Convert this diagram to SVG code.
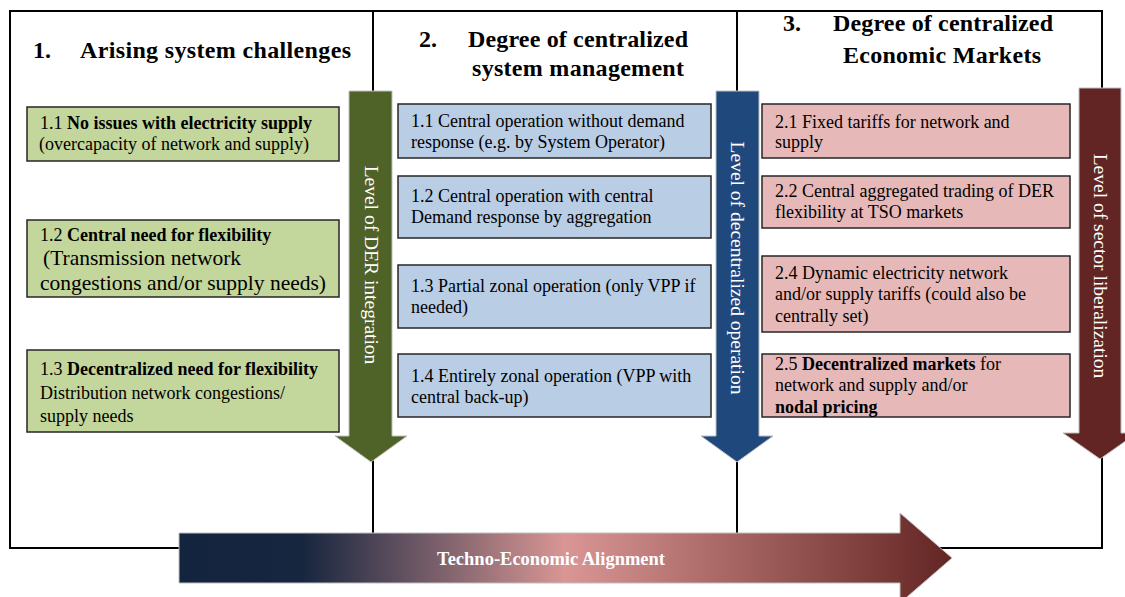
<svg xmlns="http://www.w3.org/2000/svg" width="1125" height="597" viewBox="0 0 1125 597">
<defs>
<style>
.frame{fill:none;stroke:#000;stroke-width:2}
.t{font-family:"Liberation Serif","Times New Roman",serif;fill:#000}
.title{font-size:24px;font-weight:bold}
.bx{font-size:18px}
.big{font-size:21.5px}
.b{font-weight:bold}
.g{fill:#c3d69b;stroke:#262626;stroke-width:1.5}
.bl{fill:#b9cde5;stroke:#262626;stroke-width:1.5}
.r{fill:#e6b9b8;stroke:#262626;stroke-width:1.5}
.vt{font-family:"Liberation Serif","Times New Roman",serif;font-size:19.5px;fill:#fff}
.arr{stroke:#bfbfbf;stroke-width:1}
</style>
<linearGradient id="grad" x1="0" y1="0" x2="1" y2="0">
<stop offset="0" stop-color="#13243f"/>
<stop offset="0.16" stop-color="#17263f"/>
<stop offset="0.5" stop-color="#d99694"/>
<stop offset="1" stop-color="#632523"/>
</linearGradient>
</defs>
<rect width="1125" height="597" fill="#fff"/>

<g id="frame">
<rect class="frame" x="10" y="11" width="1092" height="537"/>
<line class="frame" x1="373" y1="11" x2="373" y2="548"/>
<line class="frame" x1="737" y1="11" x2="737" y2="548"/>
</g>

<g id="titles">
<text class="t title" x="33" y="58">1.</text>
<text class="t title" x="80" y="58" textLength="271">Arising system challenges</text>
<text class="t title" x="419" y="47">2.</text>
<text class="t title" x="468" y="47" textLength="220">Degree of centralized</text>
<text class="t title" x="472" y="76" textLength="212">system management</text>
<text class="t title" x="783" y="31">3.</text>
<text class="t title" x="833" y="31" textLength="220">Degree of centralized</text>
<text class="t title" x="843" y="63" textLength="198">Economic Markets</text>
</g>

<g id="connectors">
<polygon id="arrow-der" class="arr" fill="#4f6228" points="349,91 392,91 392,436 407,436 371,462 335,436 349,436"/>
<polygon id="arrow-dec" class="arr" fill="#1f497d" points="716,91 759,91 759,436 773,436 737,462 701,436 716,436"/>
<polygon id="arrow-lib" class="arr" fill="#632523" points="1079,88 1121,88 1121,433 1137,433 1100,459 1063,433 1079,433"/>
<polygon id="arrow-align" class="arr" fill="url(#grad)" points="179,533 900,533 900,513 952,558 900,603 900,583 179,583"/>
<text class="vt" transform="translate(371,265) rotate(90)" y="6.5" text-anchor="middle">Level of DER integration</text>
<text class="vt" transform="translate(737,268) rotate(90)" y="6.5" text-anchor="middle">Level of decentralized operation</text>
<text class="vt" transform="translate(1100,266) rotate(90)" y="6.5" text-anchor="middle">Level of sector liberalization</text>
<text class="t b" x="551" y="565" font-size="18.5" fill="#fff" style="fill:#fff" text-anchor="middle">Techno-Economic Alignment</text>
</g>

<g id="n-1-1">
<rect class="g" x="27" y="107" width="312" height="54"/>
<text class="t bx" x="40" y="129">1.1 <tspan class="b">No issues with electricity supply</tspan></text>
<text class="t bx" x="39" y="150">(overcapacity of network and supply)</text>
</g>
<g id="n-1-2">
<rect class="g" x="27" y="220" width="312" height="77"/>
<text class="t bx" x="40" y="241">1.2 <tspan class="b">Central need for flexibility</tspan></text>
<text class="t big" x="43" y="265"> (Transmission network</text>
<text class="t big" x="40" y="290">congestions and/or supply needs)</text>
</g>
<g id="n-1-3">
<rect class="g" x="27" y="350" width="312" height="82"/>
<text class="t bx" x="40" y="375">1.3 <tspan class="b">Decentralized need for flexibility</tspan></text>
<text class="t bx" x="40" y="399">Distribution network congestions/</text>
<text class="t bx" x="40" y="422">supply needs</text>
</g>

<g id="n-op-1-1">
<rect class="bl" x="398" y="104" width="313" height="54"/>
<text class="t bx" x="411" y="127">1.1 Central operation without demand</text>
<text class="t bx" x="411" y="148">response (e.g. by System Operator)</text>
</g>
<g id="n-op-1-2">
<rect class="bl" x="398" y="176" width="313" height="62"/>
<text class="t bx" x="411" y="202">1.2 Central operation with central</text>
<text class="t bx" x="411" y="223">Demand response by aggregation</text>
</g>
<g id="n-op-1-3">
<rect class="bl" x="398" y="265" width="313" height="63"/>
<text class="t bx" x="411" y="292">1.3 Partial zonal operation (only VPP if</text>
<text class="t bx" x="411" y="313">needed)</text>
</g>
<g id="n-op-1-4">
<rect class="bl" x="398" y="354" width="313" height="63"/>
<text class="t bx" x="411" y="382">1.4 Entirely zonal operation (VPP with</text>
<text class="t bx" x="411" y="403">central back-up)</text>
</g>

<g id="n-2-1">
<rect class="r" x="762" y="104" width="308" height="54"/>
<text class="t bx" x="775" y="128">2.1 Fixed tariffs for network and</text>
<text class="t bx" x="775" y="148">supply</text>
</g>
<g id="n-2-2">
<rect class="r" x="762" y="176" width="308" height="52"/>
<text class="t bx" x="775" y="197">2.2 Central aggregated trading of DER</text>
<text class="t bx" x="775" y="218">flexibility at TSO markets</text>
</g>
<g id="n-2-4">
<rect class="r" x="762" y="256" width="308" height="76"/>
<text class="t bx" x="775" y="279">2.4 Dynamic electricity network</text>
<text class="t bx" x="775" y="300">and/or supply tariffs (could also be</text>
<text class="t bx" x="775" y="322">centrally set)</text>
</g>
<g id="n-2-5">
<rect class="r" x="762" y="354" width="308" height="63"/>
<text class="t bx" x="775" y="370">2.5 <tspan class="b">Decentralized markets</tspan> for</text>
<text class="t bx" x="775" y="391">network and supply and/or</text>
<text class="t bx b" x="775" y="413">nodal pricing</text>
</g>
</svg>
